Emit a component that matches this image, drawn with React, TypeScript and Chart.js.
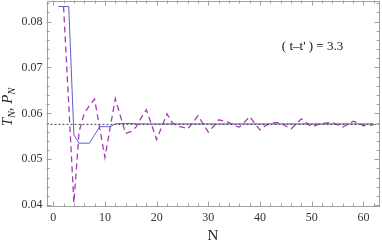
import { useEffect, useRef } from "react";
import { Chart, registerables } from "chart.js";

Chart.register(...registerables);

// N values (x)
const nValues = [
  1, 2, 3, 4, 5, 6, 7, 8, 9, 10,
  11, 12, 13, 14, 15, 16, 17, 18, 19, 20,
  21, 22, 23, 24, 25, 26, 27, 28, 29, 30,
  31, 32, 33, 34, 35, 36, 37, 38, 39, 40,
  41, 42, 43, 44, 45, 46, 47, 48, 49, 50,
  51, 52, 53, 54, 55, 56, 57, 58, 59, 60,
  61, 62,
];

// T_N (solid blue)
const tValues = [
  0.0833, 0.0833, 0.0833, 0.0553, 0.0535, 0.0535, 0.0535, 0.0553, 0.0571, 0.0571,
  0.0571, 0.0577, 0.0578, 0.0578, 0.0578, 0.0577, 0.0577, 0.0577, 0.0577, 0.0577,
  0.0577, 0.0577, 0.0577, 0.0577, 0.0577, 0.0577, 0.0577, 0.0577, 0.0577, 0.0577,
  0.0577, 0.0577, 0.0577, 0.0577, 0.0577, 0.0577, 0.0577, 0.0577, 0.0577, 0.0577,
  0.0577, 0.0577, 0.0577, 0.0577, 0.0577, 0.0577, 0.0577, 0.0577, 0.0577, 0.0577,
  0.0577, 0.0577, 0.0577, 0.0577, 0.0577, 0.0577, 0.0577, 0.0577, 0.0577, 0.0577,
  0.0577, 0.0577,
];

// P_N (dashed purple), starts at N = 2
const pValues: (number | null)[] = [
  null, 0.0833, 0.0619, 0.0405, 0.056, 0.06, 0.0617, 0.0631, 0.0567, 0.0504,
  0.0568, 0.0632, 0.0594, 0.0556, 0.056, 0.057, 0.059, 0.0608, 0.0576, 0.0543,
  0.0571, 0.0599, 0.058, 0.0572, 0.057, 0.0566, 0.058, 0.0595, 0.0577, 0.0559,
  0.0572, 0.0586, 0.0583, 0.058, 0.0573, 0.057, 0.0581, 0.0593, 0.0578, 0.0564,
  0.0573, 0.0578, 0.058, 0.058, 0.0572, 0.0566, 0.0577, 0.0588, 0.0579, 0.057,
  0.0575, 0.0578, 0.0579, 0.058, 0.0575, 0.057, 0.0576, 0.0583, 0.0579, 0.0573,
  0.0574, 0.0575,
];

const limitValue = 0.0576;
const xRange = [-1.3, 63.1];
const yRange = [0.0397, 0.0846];
const xMinorTicks = [0, 2, 4, 6, 8, 10, 12, 14, 16, 18, 20, 22, 24, 26, 28, 30, 32, 34, 36, 38, 40, 42, 44, 46, 48, 50, 52, 54, 56, 58, 60, 62];
const xMajorTicks = [0, 10, 20, 30, 40, 50, 60];
const yMinorTicks = [0.04, 0.042, 0.044, 0.046, 0.048, 0.05, 0.052, 0.054, 0.056, 0.058, 0.06, 0.062, 0.064, 0.066, 0.068, 0.07, 0.072, 0.074, 0.076, 0.078, 0.08, 0.082, 0.084];
const yMajorTicks = [0.04, 0.05, 0.06, 0.07, 0.08];
const xTitle = "N";
const yTitleParts = [
  { text: "T", sub: false },
  { text: "N", sub: true },
  { text: ", ", sub: false },
  { text: "P", sub: false },
  { text: "N", sub: true },
];
const annotationText = "( t\u2013t' ) = 3.3";

const SERIF = "'Liberation Serif', 'DejaVu Serif', serif";
const FRAME = "#a0a0a0";

const framePlugin = {
  id: "framePlugin",
  afterDraw(chart: any) {
    const ctx = chart.ctx as CanvasRenderingContext2D;
    const { left, right, top, bottom } = chart.chartArea;
    const xs = chart.scales.x;
    const ys = chart.scales.y;
    ctx.save();
    ctx.strokeStyle = FRAME;
    ctx.lineWidth = 1;
    ctx.strokeRect(Math.round(left) + 0.5, Math.round(top) + 0.5, Math.round(right - left) - 1, Math.round(bottom - top) - 1);
    ctx.beginPath();
    for (const v of xMinorTicks) {
      const len = xMajorTicks.includes(v) ? 5 : 3;
      const px = Math.round(xs.getPixelForValue(v)) + 0.5;
      ctx.moveTo(px, bottom);
      ctx.lineTo(px, bottom - len);
      ctx.moveTo(px, top);
      ctx.lineTo(px, top + len);
    }
    for (const v of yMinorTicks) {
      const len = yMajorTicks.some((m) => Math.abs(m - v) < 1e-9) ? 5 : 3;
      const py = Math.round(ys.getPixelForValue(v)) + 0.5;
      ctx.moveTo(left, py);
      ctx.lineTo(left + len, py);
      ctx.moveTo(right, py);
      ctx.lineTo(right - len, py);
    }
    ctx.stroke();

    // y title with subscripts
    ctx.fillStyle = "#222";
    ctx.translate(12, 107);
    ctx.rotate(-Math.PI / 2);
    const bigFont = `italic 15px ${SERIF}`;
    const subFont = `italic 10px ${SERIF}`;
    let total = 0;
    for (const p of yTitleParts) {
      ctx.font = p.sub ? subFont : bigFont;
      total += ctx.measureText(p.text).width;
    }
    let x = -total / 2;
    ctx.textBaseline = "alphabetic";
    ctx.textAlign = "left";
    for (const p of yTitleParts) {
      ctx.font = p.sub ? subFont : bigFont;
      ctx.fillText(p.text, x, p.sub ? 3 : 0);
      x += ctx.measureText(p.text).width;
    }
    ctx.restore();

    // annotation
    ctx.save();
    ctx.fillStyle = "#111";
    ctx.font = `13px ${SERIF}`;
    ctx.textAlign = "center";
    ctx.textBaseline = "middle";
    ctx.fillText(annotationText, 312.5, 47);
    ctx.restore();
  },
};

export default function App() {
  const ref = useRef<HTMLCanvasElement | null>(null);
  useEffect(() => {
    document.body.style.margin = "0";
    const canvas = ref.current;
    if (!canvas) return;
    const chart = new Chart(canvas, {
      type: "line",
      data: {
        datasets: [
          {
            label: "limit",
            data: [
              { x: xRange[0], y: limitValue },
              { x: xRange[1], y: limitValue },
            ],
            borderColor: "#444",
            borderWidth: 1,
            borderDash: [2, 2],
            pointRadius: 0,
          },
          {
            label: "T_N",
            data: nValues.map((n, i) => ({ x: n, y: tValues[i] })),
            borderColor: "#5c5cd0",
            borderWidth: 1,
            pointRadius: 0,
          },
          {
            label: "P_N",
            data: nValues.map((n, i) => ({ x: n, y: pValues[i] })),
            borderColor: "#a53db3",
            borderWidth: 1.3,
            borderDash: [6, 4],
            pointRadius: 0,
            spanGaps: false,
          },
        ],
      },
      options: {
        animation: false,
        responsive: false,
        devicePixelRatio: 1,
        layout: { padding: { top: 0.5, right: 2.5, left: 0, bottom: 0 } },
        plugins: { legend: { display: false }, tooltip: { enabled: false } },
        scales: {
          x: {
            type: "linear",
            min: xRange[0],
            max: xRange[1],
            grid: { display: false, drawTicks: false },
            border: { display: false },
            ticks: {
              stepSize: 10,
              includeBounds: false,
              autoSkip: false,
              maxRotation: 0,
              padding: 4,
              color: "#333",
              font: { family: SERIF, size: 12 },
              callback: (v: any) => String(v),
            },
            title: {
              display: true,
              text: xTitle,
              color: "#222",
              font: { family: SERIF, size: 15 },
              padding: { top: 0, bottom: 0 },
            },
            afterFit: (s: any) => {
              s.height = 38.5;
              s.paddingLeft = 0;
              s.paddingRight = 0;
            },
          },
          y: {
            type: "linear",
            min: yRange[0],
            max: yRange[1],
            grid: { display: false, drawTicks: false },
            border: { display: false },
            ticks: {
              stepSize: 0.01,
              includeBounds: false,
              padding: 4,
              color: "#333",
              font: { family: SERIF, size: 12 },
              callback: (v: any) => Number(v).toFixed(2),
            },
            afterFit: (s: any) => {
              s.width = 46.5;
              s.paddingTop = 0;
              s.paddingBottom = 0;
            },
          },
        },
      },
      plugins: [framePlugin],
    });
    return () => chart.destroy();
  }, []);
  return (
    <div style={{ width: 382, height: 245 }}>
      <canvas ref={ref} width={382} height={245} />
    </div>
  );
}
